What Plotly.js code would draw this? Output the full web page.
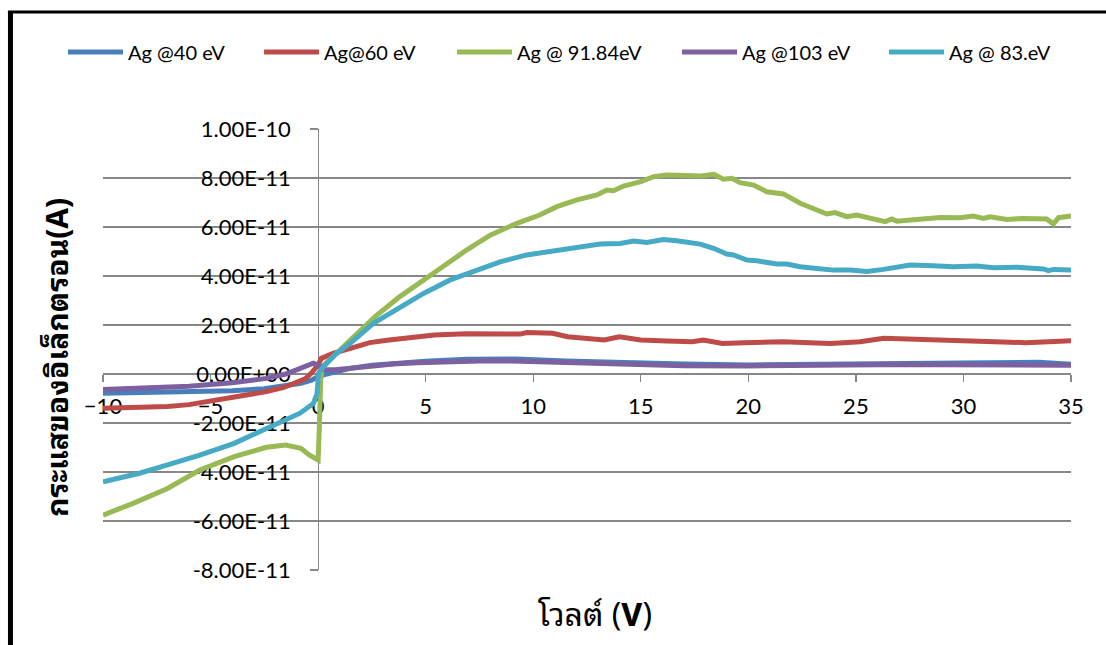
<!DOCTYPE html>
<html>
<head>
<meta charset="utf-8">
<script src="https://cdn.plot.ly/plotly-3.0.1.min.js"></script>
<style>
  html, body { margin: 0; padding: 0; background: #ffffff; }
  #chart { width: 1106px; height: 645px; }
</style>
</head>
<body>
<div id="chart"></div>
<script>
// Electron current versus voltage for silver at several photon energies

const seriesNames = ['Ag @40 eV', 'Ag@60 eV', 'Ag @ 91.84eV', 'Ag @103 eV', 'Ag @ 83.eV'];
const seriesColors = ['#4A7EBB', '#BE4B48', '#98B954', '#7D60A0', '#46AAC5'];

// Ag @40 eV
const blueX = [-10, -8, -6, -4, -2.5, -1.5, -0.8, -0.3, 0, 0.3, 0.8, 1.5, 2.5, 3.8, 5, 6.9, 9.2, 11.5, 14, 17, 20, 23, 26, 29, 32, 33.5, 35];
const blueY = [-0.79e-11, -0.76e-11, -0.73e-11, -0.68e-11, -0.6e-11, -0.5e-11, -0.38e-11, -0.25e-11, -0.1e-11, -0.02e-11, 0.08e-11, 0.23e-11, 0.36e-11, 0.46e-11, 0.52e-11, 0.6e-11, 0.61e-11, 0.53e-11, 0.46e-11, 0.41e-11, 0.37e-11, 0.39e-11, 0.4e-11, 0.42e-11, 0.43e-11, 0.48e-11, 0.4e-11];

// Ag@60 eV
const redX = [-10, -8, -7, -6, -4.7, -3.5, -2.4, -1.6, -1.1, -0.6, -0.3, 0, 0.15, 0.4, 0.7, 1.5, 2.4, 3.3, 4.4, 5.4, 6.9, 8.5, 9.4, 9.7, 10.3, 10.9, 11.6, 12.3, 13.3, 14, 15, 16.2, 17.4, 17.9, 18.8, 19.8, 21.6, 23.8, 25.2, 26.3, 27.5, 28.6, 29.9, 30.9, 32.9, 35];
const redY = [-1.4e-11, -1.37e-11, -1.33e-11, -1.25e-11, -1.06e-11, -0.92e-11, -0.72e-11, -0.55e-11, -0.38e-11, -0.2e-11, 0.05e-11, 0.37e-11, 0.64e-11, 0.75e-11, 0.84e-11, 1.05e-11, 1.28e-11, 1.39e-11, 1.52e-11, 1.59e-11, 1.64e-11, 1.66e-11, 1.63e-11, 1.69e-11, 1.69e-11, 1.66e-11, 1.52e-11, 1.46e-11, 1.39e-11, 1.52e-11, 1.39e-11, 1.35e-11, 1.32e-11, 1.39e-11, 1.25e-11, 1.28e-11, 1.32e-11, 1.25e-11, 1.32e-11, 1.46e-11, 1.43e-11, 1.36e-11, 1.35e-11, 1.32e-11, 1.28e-11, 1.36e-11];

// Ag @ 91.84eV
const greenX = [-10, -8.6, -7, -5.5, -3.9, -2.4, -1.5, -0.8, -0.4, 0, 0.06, 0.12, 0.2, 0.6, 1, 1.5, 2.65, 3.8, 5.36, 6.9, 8, 9.24, 10.3, 11.1, 12, 12.96, 13.42, 13.73, 14.2, 15, 15.6, 16.2, 17.8, 18.4, 18.84, 19.23, 19.62, 20.24, 20.86, 21.63, 22.41, 23.03, 23.65, 24.03, 24.58, 25.04, 25.66, 26.36, 26.67, 26.9, 27.83, 28.6, 28.92, 29.85, 30.46, 30.93, 31.24, 32.02, 32.79, 33.87, 34.18, 34.42, 35];
const greenY = [-5.76e-11, -5.28e-11, -4.67e-11, -3.92e-11, -3.37e-11, -2.99e-11, -2.9e-11, -3.03e-11, -3.31e-11, -3.51e-11, -2.15e-11, -0.24e-11, 0.3e-11, 0.65e-11, 1.0e-11, 1.39e-11, 2.34e-11, 3.16e-11, 4.11e-11, 5.06e-11, 5.67e-11, 6.15e-11, 6.49e-11, 6.83e-11, 7.1e-11, 7.31e-11, 7.51e-11, 7.48e-11, 7.67e-11, 7.85e-11, 8.05e-11, 8.12e-11, 8.08e-11, 8.15e-11, 7.95e-11, 7.99e-11, 7.81e-11, 7.71e-11, 7.44e-11, 7.35e-11, 6.97e-11, 6.76e-11, 6.53e-11, 6.59e-11, 6.42e-11, 6.49e-11, 6.38e-11, 6.22e-11, 6.33e-11, 6.24e-11, 6.31e-11, 6.35e-11, 6.39e-11, 6.38e-11, 6.45e-11, 6.35e-11, 6.42e-11, 6.31e-11, 6.35e-11, 6.33e-11, 6.12e-11, 6.38e-11, 6.45e-11];

// Ag @103 eV
const purpleX = [-10, -8, -6, -4, -3, -2.4, -1.5, -0.84, -0.22, 0.1, 0.3, 0.8, 1.5, 2.3, 3.5, 4.6, 6, 7.5, 9, 11.5, 14, 17, 20, 23, 26, 29, 32, 35];
const purpleY = [-0.63e-11, -0.58e-11, -0.5e-11, -0.36e-11, -0.27e-11, -0.18e-11, 0.0e-11, 0.23e-11, 0.44e-11, 0.32e-11, 0.18e-11, 0.17e-11, 0.23e-11, 0.33e-11, 0.41e-11, 0.46e-11, 0.5e-11, 0.53e-11, 0.53e-11, 0.46e-11, 0.39e-11, 0.34e-11, 0.33e-11, 0.37e-11, 0.38e-11, 0.38e-11, 0.38e-11, 0.36e-11];

// Ag @ 83.eV
const cyanX = [-10, -8.3, -7, -5.5, -3.9, -2.4, -0.84, -0.22, -0.05, 0.02, 0.25, 0.8, 1.49, 2.57, 3.81, 4.9, 6.14, 7.38, 8.46, 9.7, 10.94, 12.18, 13.11, 14.04, 14.66, 15.28, 16.05, 16.68, 17.76, 18.38, 19, 19.31, 19.93, 20.4, 21.33, 21.79, 22.41, 23.18, 23.96, 24.73, 25.51, 26.28, 27.06, 27.52, 28.6, 29.54, 30.62, 31.4, 32.48, 33.72, 33.95, 34.19, 35];
const cyanY = [-4.4e-11, -4.05e-11, -3.71e-11, -3.31e-11, -2.83e-11, -2.22e-11, -1.6e-11, -1.2e-11, -0.8e-11, 0.03e-11, 0.3e-11, 0.8e-11, 1.25e-11, 2.07e-11, 2.75e-11, 3.29e-11, 3.84e-11, 4.24e-11, 4.58e-11, 4.86e-11, 5.02e-11, 5.2e-11, 5.31e-11, 5.33e-11, 5.43e-11, 5.37e-11, 5.49e-11, 5.44e-11, 5.3e-11, 5.13e-11, 4.9e-11, 4.86e-11, 4.65e-11, 4.62e-11, 4.49e-11, 4.49e-11, 4.38e-11, 4.31e-11, 4.24e-11, 4.24e-11, 4.18e-11, 4.27e-11, 4.38e-11, 4.45e-11, 4.42e-11, 4.38e-11, 4.41e-11, 4.34e-11, 4.36e-11, 4.29e-11, 4.22e-11, 4.27e-11, 4.24e-11];

// Axes
const xRange = [-10, 35];
const yRange = [-8e-11, 1e-10];
const xTickVals = [-10, -5, 0, 5, 10, 15, 20, 25, 30, 35];
const yTickVals = [-8e-11, -6e-11, -4e-11, -2e-11, 0, 2e-11, 4e-11, 6e-11, 8e-11, 1e-10];
const yTickText = ['-8.00E-11', '-6.00E-11', '-4.00E-11', '-2.00E-11', '0.00E+00', '2.00E-11', '4.00E-11', '6.00E-11', '8.00E-11', '1.00E-10'];

const xTitle = 'โวลต์ (<b>V</b>)';
const yTitle = '<b>กระแสของอิเล็กตรอน(A)</b>';

// one legend box per series so each entry keeps its own slot in the top row
const legendIds = ['legend', 'legend2', 'legend3', 'legend4', 'legend5'];
const legendLeft = [-0.0413, 0.1612, 0.3605, 0.5930, 0.8068];

const xs = [blueX, redX, greenX, purpleX, cyanX];
const ys = [blueY, redY, greenY, purpleY, cyanY];

const traces = seriesNames.map((name, i) => ({
  type: 'scatter',
  mode: 'lines',
  name: name,
  x: xs[i],
  y: ys[i],
  legend: legendIds[i],
  line: { color: seriesColors[i], width: 5 },
  hoverinfo: 'skip'
}));

const tickFont = { family: 'Lato, "Open Sans", sans-serif', size: 22, color: '#000000' };
const thaiFamily = '"Noto Sans Thai Looped", Loma, Garuda, "Noto Sans Thai", "Noto Sans", "Liberation Sans", sans-serif';
const gridGray = '#878787';

// axes cross at the origin, like the spreadsheet layout
const xAxisPos = (0 - yRange[0]) / (yRange[1] - yRange[0]);
const yAxisPos = (0 - xRange[0]) / (xRange[1] - xRange[0]);

const layout = {
  width: 1106,
  height: 645,
  margin: { l: 103, r: 35, t: 129, b: 75, pad: 0 },
  paper_bgcolor: '#ffffff',
  plot_bgcolor: '#ffffff',
  showlegend: true,
  xaxis: {
    range: xRange,
    anchor: 'free',
    position: xAxisPos,
    tickmode: 'array',
    tickvals: xTickVals,
    showgrid: false,
    zeroline: false,
    showline: true,
    linecolor: gridGray,
    linewidth: 1.3,
    ticks: 'outside',
    ticklen: 7,
    tickwidth: 1.3,
    tickcolor: gridGray,
    tickfont: tickFont,
    ticklabelstandoff: 5,
    layer: 'below traces'
  },
  yaxis: {
    range: yRange,
    anchor: 'free',
    position: yAxisPos,
    tickmode: 'array',
    tickvals: yTickVals,
    ticktext: yTickText,
    showgrid: true,
    gridcolor: gridGray,
    gridwidth: 1.3,
    zeroline: false,
    showline: true,
    linecolor: gridGray,
    linewidth: 1.3,
    ticks: 'outside',
    ticklen: 8,
    tickwidth: 1.3,
    tickcolor: gridGray,
    tickfont: tickFont,
    ticklabelstandoff: 15,
    layer: 'below traces'
  },
  shapes: [
    // frame: left and top edges
    { type: 'line', xref: 'paper', yref: 'paper', x0: -0.0956, x1: -0.0956, y0: -0.2, y1: 1.2676, line: { color: '#000000', width: 5 } },
    { type: 'line', xref: 'paper', yref: 'paper', x0: -0.0982, x1: 1.05, y0: 1.2653, y1: 1.2653, line: { color: '#000000', width: 3 } }
  ],
  annotations: [
    { text: xTitle, xref: 'paper', yref: 'paper', x: 0.5083, y: -0.0952, xanchor: 'center', yanchor: 'middle', showarrow: false,
      font: { family: thaiFamily, size: 32, color: '#000000' } },
    { text: yTitle, xref: 'paper', yref: 'paper', x: -0.0506, y: 0.4807, xanchor: 'center', yanchor: 'middle', showarrow: false, textangle: -90,
      font: { family: thaiFamily, size: 30, color: '#000000' } }
  ]
};

legendIds.forEach((id, i) => {
  layout[id] = {
    orientation: 'h',
    x: legendLeft[i],
    xanchor: 'left',
    y: 1.1746,
    yanchor: 'middle',
    font: { family: 'Lato, "Open Sans", sans-serif', size: 20, color: '#000000' },
    itemwidth: 55,
    bgcolor: 'rgba(0,0,0,0)'
  };
});

Plotly.newPlot('chart', traces, layout, { displayModeBar: false, staticPlot: true });
</script>
</body>
</html>
